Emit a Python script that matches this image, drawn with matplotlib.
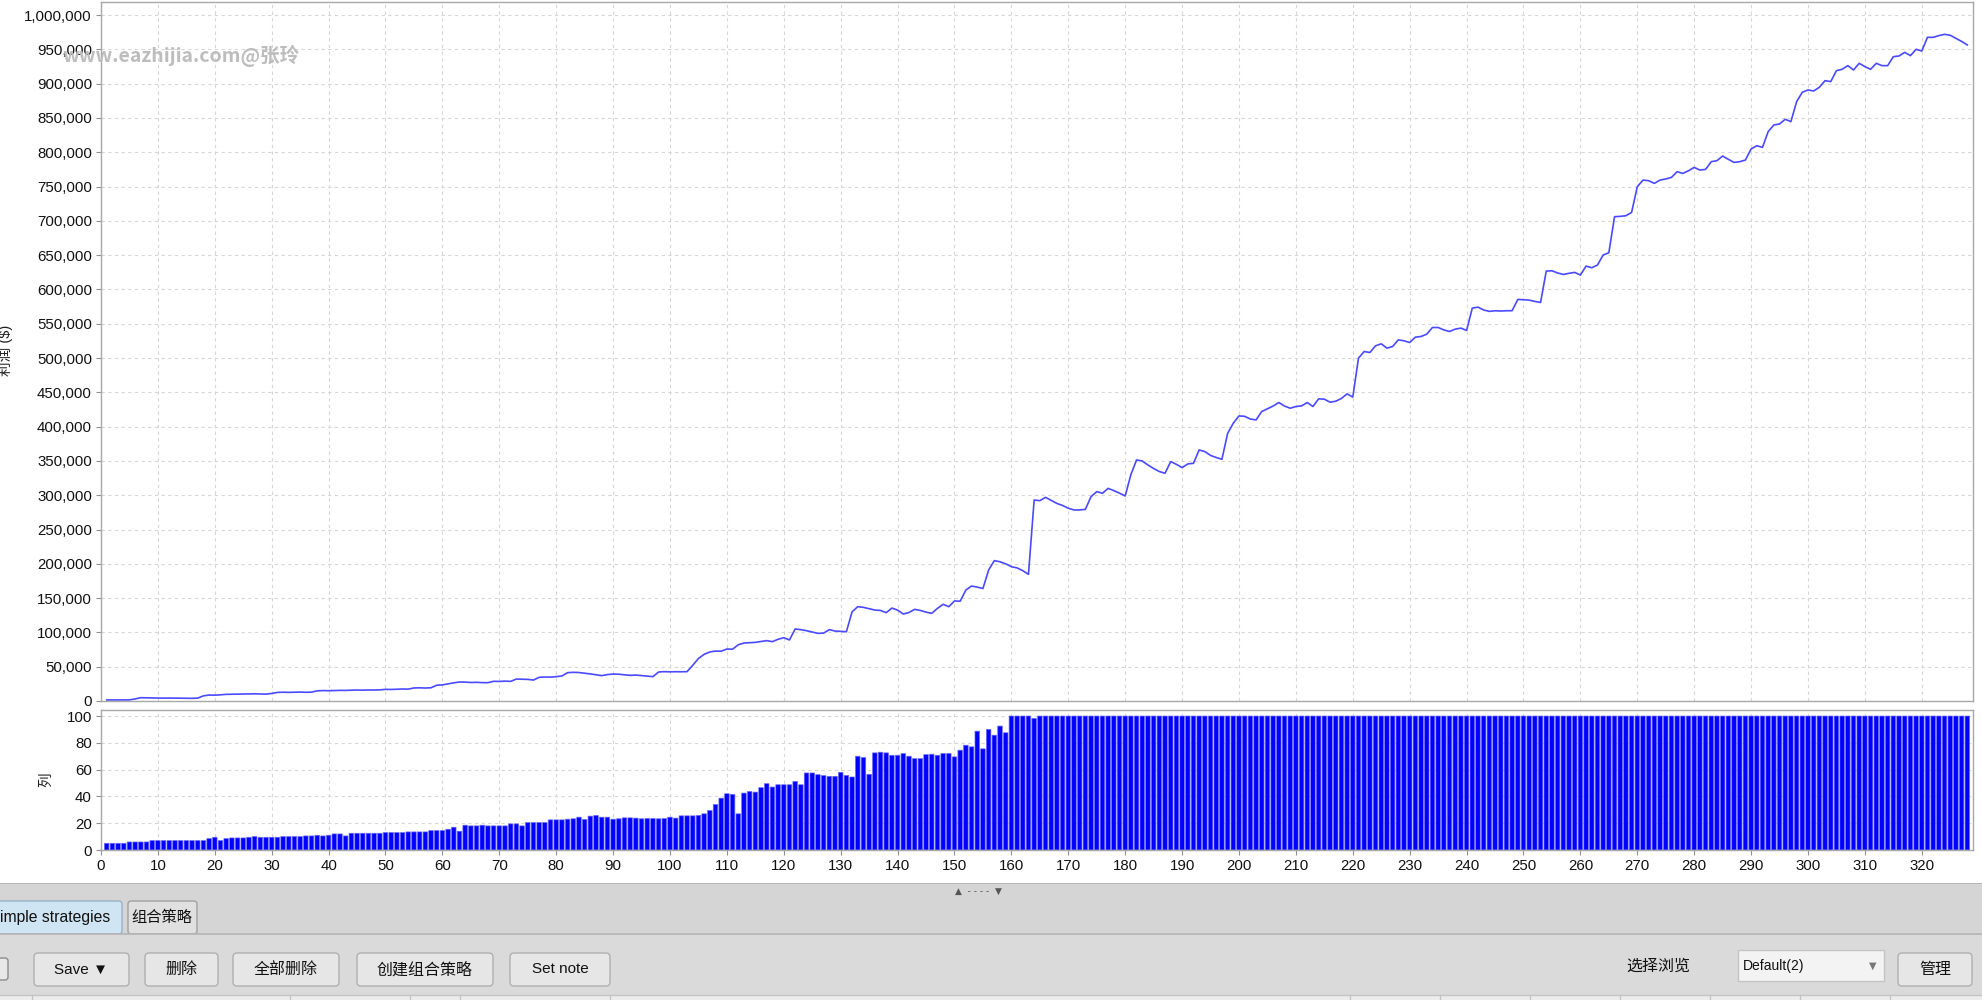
import matplotlib
matplotlib.use("Agg")
from matplotlib import pyplot as plt
from matplotlib.patches import Rectangle, FancyBboxPatch
from matplotlib.ticker import StrMethodFormatter, MultipleLocator

plt.rcParams['font.family'] = ['Liberation Sans', 'Noto Sans CJK SC', 'DejaVu Sans']

# 交易序号
trades = list(range(1, 329))

# 累计利润 ($)
equity = [
    1500, 1500, 1600, 1500, 1600, 3000, 4800, 4600, 4500, 4300,
    4200, 4300, 4200, 4100, 4000, 3900, 4200, 7500, 8700, 8500,
    9000, 9700, 9800, 10000, 10200, 10400, 10500, 10300, 10000, 11000,
    12500, 12800, 12600, 12800, 13000, 12700, 12900, 14800, 15200, 15000,
    15300, 15500, 15400, 15800, 16000, 15800, 16100, 16000, 16200, 17000,
    16800, 17200, 17500, 17300, 19000, 19200, 18900, 19300, 23000, 23500,
    25000, 26500, 27700, 27500, 27000, 27200, 26800, 26700, 28700, 28500,
    29000, 28600, 32000, 31800, 31500, 30500, 34500, 35000, 34800, 35500,
    36500, 41300, 41800, 41500, 40500, 39500, 38200, 37000, 38500, 39300,
    39000, 38200, 37400, 37800, 37000, 36200, 35500, 42300, 42800, 42500,
    42700, 42600, 42800, 52000, 62000, 68000, 71500, 72800, 72600, 75800,
    75500, 82000, 84500, 85000, 85500, 86800, 88000, 86500, 90000, 92300,
    89000, 105000, 104000, 102500, 100500, 98600, 99000, 104000, 102000, 101500,
    101000, 130000, 137500, 136500, 134500, 132600, 132000, 128800, 135500, 132500,
    126800, 129000, 133600, 132000, 129500, 127800, 135000, 141000, 137500, 145800,
    145500, 161800, 167600, 166000, 164000, 191000, 204600, 203000, 200000, 195800,
    194000, 190000, 184700, 293000, 292000, 296900, 292500, 288000, 285000, 281000,
    278500, 278500, 279400, 297900, 305200, 302800, 310000, 306700, 303000, 298900,
    330000, 351400, 349900, 344000, 339000, 334500, 332000, 349000, 345000, 340200,
    345600, 346500, 366000, 363600, 358000, 355000, 352400, 390000, 405000, 415600,
    415000, 411000, 409800, 422000, 426000, 430000, 435100, 430000, 426800, 429300,
    430200, 435100, 429300, 440500, 440000, 435600, 437000, 441000, 447800, 443000,
    499800, 509500, 508000, 517800, 520700, 514400, 516800, 526500, 525100, 522600,
    530400, 531400, 534800, 544500, 544500, 541000, 538700, 542100, 543600, 540200,
    572700, 574200, 570000, 568000, 568900, 568500, 568900, 569000, 585400, 585000,
    584400, 582500, 581000, 626700, 627200, 624000, 621800, 623500, 624800, 620900,
    634000, 631600, 635500, 650100, 653500, 706000, 706500, 707400, 712300, 749700,
    759400, 758500, 754600, 759400, 761000, 763300, 771600, 769100, 773000, 777900,
    774000, 775000, 786200, 787700, 794500, 789600, 785200, 786200, 788600, 804700,
    809500, 807100, 830000, 839700, 841200, 848000, 844600, 873700, 887400, 890800,
    889300, 894700, 904400, 902900, 918900, 920900, 926200, 919900, 929600, 924800,
    920900, 929600, 926200, 926200, 939300, 940300, 945600, 940800, 950000, 947600,
    967500, 967500, 970000, 971900, 970500, 966000, 961500, 956400,
]

# 下方柱状图数值
bars = [
    5, 5, 5, 5, 6, 6, 6, 6, 7, 7,
    7, 7, 7, 7, 7, 7, 7, 7, 8.5, 9.5,
    7, 8.5, 9, 9, 9, 9.5, 10, 9.5, 9.5, 9.5,
    9.5, 10, 10, 10, 10, 10.5, 10.5, 11, 10.5, 11,
    12, 12, 10.5, 12.5, 12.5, 12.5, 12.5, 12.5, 12.5, 13,
    13, 13, 13, 13.5, 13.5, 13.5, 13.5, 14.5, 14.5, 14.5,
    15.5, 17, 14, 18.5, 18, 18, 18.5, 18, 18, 18,
    18, 19.5, 19.5, 18, 20.5, 20.5, 20.5, 20.5, 22.5, 22.5,
    22.5, 23, 23.3, 24.5, 22.8, 25.3, 25.8, 24.5, 24.5, 23,
    23.3, 24, 24, 23.8, 23.3, 23.5, 23.5, 23.3, 23.5, 24.5,
    23.8, 25.5, 25.5, 25.5, 25.8, 27, 29.5, 34, 38.7, 42,
    41.5, 27, 42.5, 43.7, 43.2, 46.5, 49.5, 47, 48.7, 48.7,
    48.7, 51.2, 48.7, 57.5, 57.5, 56.2, 55.5, 55, 55, 58,
    55.7, 54.5, 70, 69, 56.5, 72.5, 73, 72.5, 70.7, 70.7,
    72, 70, 68.2, 68.2, 71.2, 71.5, 70.7, 72, 72, 69.5,
    74.5, 78.2, 77, 88.7, 75.5, 90, 85.7, 92.5, 87.5, 100,
    100, 100, 100, 98.2, 100, 100, 100, 100, 100, 100,
    100, 100, 100, 100, 100, 100, 100, 100, 100, 100,
    100, 100, 100, 100, 100, 100, 100, 100, 100, 100,
    100, 100, 100, 100, 100, 100, 100, 100, 100, 100,
    100, 100, 100, 100, 100, 100, 100, 100, 100, 100,
    100, 100, 100, 100, 100, 100, 100, 100, 100, 100,
    100, 100, 100, 100, 100, 100, 100, 100, 100, 100,
    100, 100, 100, 100, 100, 100, 100, 100, 100, 100,
    100, 100, 100, 100, 100, 100, 100, 100, 100, 100,
    100, 100, 100, 100, 100, 100, 100, 100, 100, 100,
    100, 100, 100, 100, 100, 100, 100, 100, 100, 100,
    100, 100, 100, 100, 100, 100, 100, 100, 100, 100,
    100, 100, 100, 100, 100, 100, 100, 100, 100, 100,
    100, 100, 100, 100, 100, 100, 100, 100, 100, 100,
    100, 100, 100, 100, 100, 100, 100, 100, 100, 100,
    100, 100, 100, 100, 100, 100, 100, 100, 100, 100,
    100, 100, 100, 100, 100, 100, 100, 100,
]

W, H = 1983, 1000
fig = plt.figure(figsize=(W / 100, H / 100), dpi=100)
fig.patch.set_facecolor('white')

spine_c = '#a8a8a8'
grid_kw = dict(color='#d6d6d6', linestyle=(0, (3, 3)), linewidth=0.8)


def style_axes(ax):
    for s in ax.spines.values():
        s.set_color(spine_c)
        s.set_linewidth(1.0)
    ax.tick_params(length=3.5, width=0.8, color='#909090', pad=3,
                   labelsize=10.8, labelcolor='#111111')
    ax.grid(True, **grid_kw)
    ax.set_axisbelow(True)


# 上图：利润曲线
ax1 = fig.add_axes([101 / W, 1 - 701 / H, 1872 / W, 699 / H])
ax1.plot(trades, equity, color='#4a4aff', linewidth=1.2)
ax1.set_xlim(0, 329)
ax1.set_ylim(0, 1019000)
ax1.yaxis.set_major_locator(MultipleLocator(50000))
ax1.yaxis.set_major_formatter(StrMethodFormatter('{x:,.0f}'))
ax1.xaxis.set_major_locator(MultipleLocator(10))
style_axes(ax1)
ax1.tick_params(axis='x', length=0, labelbottom=False)

# 下图：柱状图
ax2 = fig.add_axes([101 / W, 1 - 850 / H, 1872 / W, 140 / H])
ax2.bar(trades, bars, width=0.8, color='#0000ff', edgecolor='#6a6aff',
        linewidth=0.5, snap=False)
ax2.set_xlim(0, 329)
ax2.set_ylim(0, 104.5)
ax2.yaxis.set_major_locator(MultipleLocator(20))
ax2.xaxis.set_major_locator(MultipleLocator(10))
style_axes(ax2)

# 轴标题
fig.text(5 / W, 1 - 350 / H, '利润 ($)', rotation=90, ha='center', va='center',
         fontsize=10.5, color='#222222')
fig.text(46 / W, 1 - 780 / H, '列', rotation=90, ha='center', va='center',
         fontsize=10.5, color='#222222')

# 水印
fig.text(62 / W, 1 - 56 / H, 'www.eazhijia.com@张玲', fontsize=14, fontweight='bold',
         color='#bdbdbd', family=['Noto Sans CJK SC'], ha='left', va='center', zorder=10)

# 底部界面面板
ui = fig.add_axes([0, 0, 1, 117 / H])
ui.set_xlim(0, W)
ui.set_ylim(1000, 883)
ui.axis('off')

ui.add_patch(Rectangle((0, 883), W, 51, facecolor='#d5d5d5', edgecolor='none'))
ui.plot([0, W], [883.5, 883.5], color='#b0b0b0', lw=1.2)
ui.text(978, 891, '▲  - - - -  ▼', fontsize=6.5, color='#555555', ha='center', va='center',
        family=['DejaVu Sans'])

# 选项卡
ui.add_patch(FancyBboxPatch((-6, 901), 128, 33, boxstyle='round,pad=0,rounding_size=3',
                            facecolor='#d0e5f3', edgecolor='#98b2c6', lw=1))
ui.text(0, 918, 'imple strategies', fontsize=11.3, ha='left', va='center', color='#111111')
ui.add_patch(FancyBboxPatch((128, 901), 69, 33, boxstyle='round,pad=0,rounding_size=3',
                            facecolor='#e0e0e0', edgecolor='#a0a0a0', lw=1))
ui.text(162, 918, '组合策略', fontsize=11, ha='center', va='center', color='#111111')

ui.add_patch(Rectangle((0, 934), W, 61, facecolor='#dadada', edgecolor='none'))
ui.plot([0, W], [934, 934], color='#b4b4b4', lw=1.2)

# 按钮
buttons = [
    (34, 95, 'Save ▼'),
    (145, 73, '删除'),
    (233, 106, '全部删除'),
    (357, 136, '创建组合策略'),
    (510, 100, 'Set note'),
    (1898, 74, '管理'),
]
ui.add_patch(FancyBboxPatch((-10, 958), 18, 22, boxstyle='round,pad=0,rounding_size=3',
                            facecolor='#e8e8e8', edgecolor='#8c8c8c', lw=1))
for x0, w, label in buttons:
    ui.add_patch(FancyBboxPatch((x0, 953), w, 33, boxstyle='round,pad=0,rounding_size=4',
                                facecolor='#e6e6e6', edgecolor='#b0b0b0', lw=1))
    fs = 11 if label.isascii() or '▼' in label else 11.5
    ui.text(x0 + w / 2, 969.5, label, fontsize=fs, ha='center', va='center',
            color='#111111', family=['Liberation Sans', 'Noto Sans CJK SC', 'DejaVu Sans'])

ui.text(1658, 966, '选择浏览', fontsize=11.5, ha='center', va='center', color='#111111')
ui.add_patch(Rectangle((1738, 950), 146, 31, facecolor='#f3f3f3', edgecolor='#c4c4c4', lw=1))
ui.text(1743, 966, 'Default(2)', fontsize=10, ha='left', va='center', color='#111111')
ui.text(1873, 966, '▼', fontsize=7, ha='center', va='center', color='#777777',
        family=['DejaVu Sans'])

ui.add_patch(Rectangle((0, 995), W, 5, facecolor='#ececec', edgecolor='none'))
ui.plot([0, W], [995, 995], color='#c4c4c4', lw=1)
for sx in [32, 290, 410, 460, 610, 1350, 1440, 1530, 1620, 1710, 1800, 1890]:
    ui.plot([sx, sx], [995, 1000], color='#c4c4c4', lw=1)

fig.savefig('out.png', dpi=100, facecolor='white')
